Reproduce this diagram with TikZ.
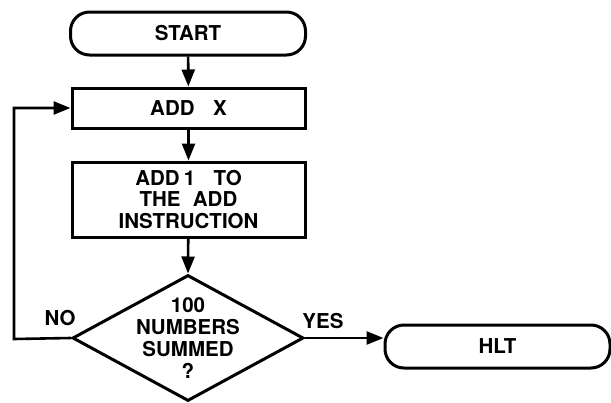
\documentclass[tikz,border=0pt]{standalone}
\usepackage{fontspec}
\setmainfont{TeX Gyre Heros}
\usetikzlibrary{shapes.geometric,arrows.meta}
\begin{document}
\begin{tikzpicture}[x=1pt,y=-1pt,
  every node/.style={font=\fontsize{20.5}{21.5}\selectfont\bfseries},
  term/.style={draw, line width=3pt, rounded corners=19pt, minimum height=43pt, inner sep=0pt},
  proc/.style={draw, line width=3pt, minimum width=233pt, inner sep=0pt, align=center},
  decision/.style={draw, diamond, line width=3pt, minimum width=231pt, minimum height=126pt, inner sep=0pt},
  flow/.style={line width=2.6pt, -{Triangle[length=17pt,width=13pt]}},
  lbl/.style={inner sep=0pt}]
\useasboundingbox (0,0) rectangle (611,402);
\node[term, minimum width=235pt] (start) at (188,33.5) {START};
\node[proc, minimum height=40pt] (addx) at (188.5,108) {ADD\hspace{0.9em}X};
\node[proc, minimum height=75pt] (instr) at (188.5,199.5) {ADD\hspace{0.2em}1\hspace{0.9em}TO\\THE\hspace{0.6em}ADD\\INSTRUCTION};
\node[decision] (dec) at (188,338) {};
\node[align=center, inner sep=0pt, font=\fontsize{20.5}{22}\selectfont\bfseries] (dectext) at (188,338) {100\\NUMBERS\\SUMMED\\?};
\node[term, minimum width=225pt] (hlt) at (497.5,346.5) {HLT};
\coordinate (loopb) at (14,339);
\coordinate (loopt) at (14,108);
\draw[flow] (start) -- (addx);
\draw[flow] (addx) -- (instr);
\draw[flow] (instr) -- (dec.north);
\draw[flow] (dec.east) -- (dec.east -| hlt.west);
\draw[flow] (dec.west) -- (loopb) -- (loopt) -- (addx.west);
\node[lbl] (no) at (60,318) {NO};
\node[lbl] (yes) at (323,321) {YES};
\end{tikzpicture}
\end{document}
